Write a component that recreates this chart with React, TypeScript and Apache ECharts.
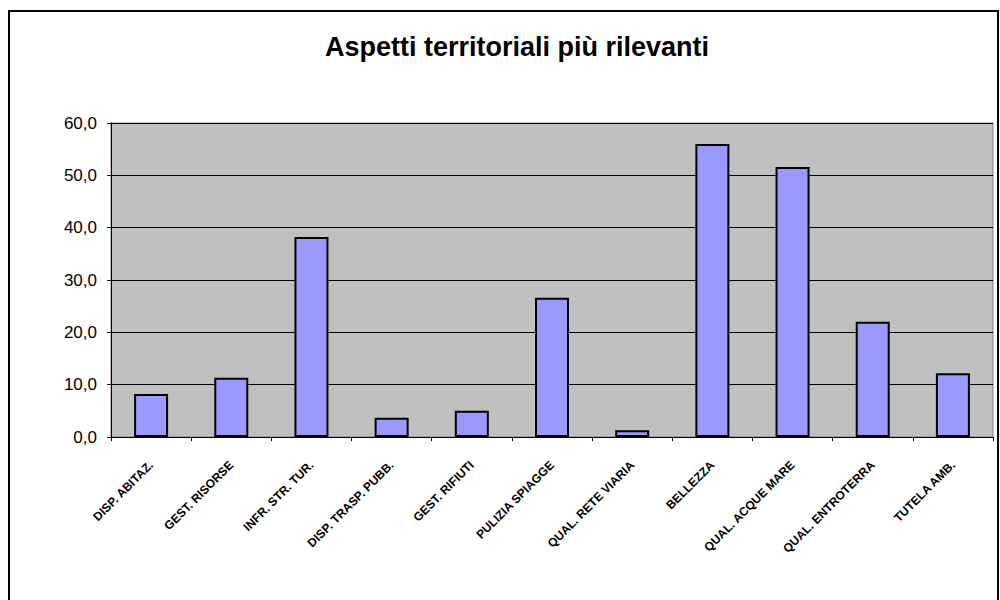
import React, { useEffect, useRef } from "react";
import * as echarts from "echarts";

const categories = [
  "DISP. ABITAZ.",
  "GEST. RISORSE",
  "INFR. STR. TUR.",
  "DISP. TRASP. PUBB.",
  "GEST. RIFIUTI",
  "PULIZIA SPIAGGE",
  "QUAL. RETE VIARIA",
  "BELLEZZA",
  "QUAL. ACQUE MARE",
  "QUAL. ENTROTERRA",
  "TUTELA AMB.",
];
const values = [8.2, 11.3, 38.2, 3.7, 5.0, 26.6, 1.3, 56.0, 51.6, 22.0, 12.2];
const title = "Aspetti territoriali più rilevanti";

export default function App() {
  const ref = useRef<HTMLDivElement>(null);
  useEffect(() => {
    const chart = echarts.init(ref.current!, null, { renderer: "svg" });
    chart.setOption({
      animation: false,
      backgroundColor: "#ffffff",
      title: {
        text: title,
        left: 512,
        top: 28,
        textAlign: "center",
        textStyle: { fontFamily: "Arial, 'Liberation Sans'", fontSize: 27, fontWeight: "bold", color: "#000" },
      },
      graphic: [
        {
          type: "rect",
          shape: { x: 9, y: 11, width: 989, height: 600 },
          style: { fill: "none", stroke: "#000", lineWidth: 2 },
          silent: true,
        },
      ],
      grid: {
        left: 111,
        right: 7,
        top: 123,
        bottom: 163,
        show: true,
        backgroundColor: "#C0C0C0",
        borderColor: "#808080",
        borderWidth: 1,
      },
      xAxis: {
        type: "category",
        data: categories,
        boundaryGap: true,
        axisLine: { lineStyle: { color: "#000", width: 1 } },
        axisTick: { show: true, alignWithLabel: false, length: 4, lineStyle: { color: "#000" } },
        axisLabel: {
          rotate: 45,
          interval: 0,
          margin: 26,
          fontFamily: "Arial, 'Liberation Sans'",
          fontSize: 12,
          fontWeight: "bold",
          color: "#000",
        },
      },
      yAxis: {
        type: "value",
        min: 0,
        max: 60,
        interval: 10,
        axisLine: { show: true, lineStyle: { color: "#000", width: 1 } },
        axisTick: { show: true, length: 4, lineStyle: { color: "#000" } },
        splitLine: { show: true, lineStyle: { color: "#000", width: 1 } },
        axisLabel: {
          formatter: (v: number) => v.toFixed(1).replace(".", ","),
          fontFamily: "Arial, 'Liberation Sans'",
          fontSize: 17,
          color: "#000",
          margin: 14,
        },
      },
      series: [
        {
          type: "bar",
          data: values,
          barWidth: 34,
          itemStyle: { color: "#9999FF", borderColor: "#000", borderWidth: 2 },
        },
      ],
    });
    return () => chart.dispose();
  }, []);
  return (
    <div
      ref={ref}
      style={{ position: "fixed", left: 0, top: 0, width: 1000, height: 600 }}
    />
  );
}
